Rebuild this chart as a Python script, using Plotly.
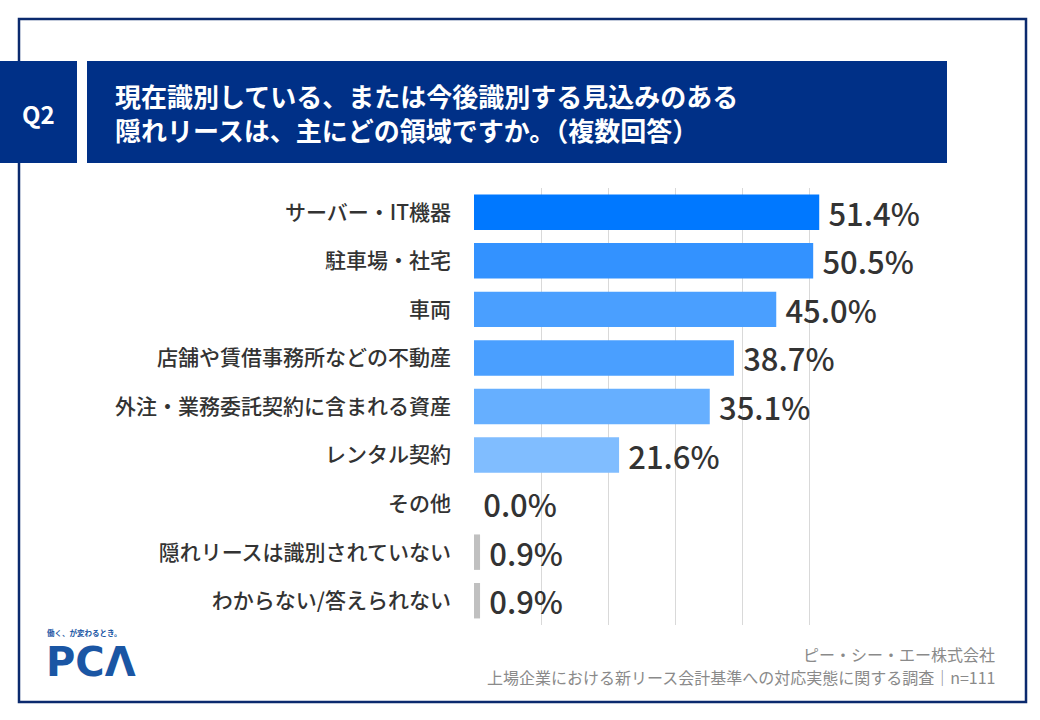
import plotly.graph_objects as go

categories = [
    "サーバー・IT機器",
    "駐車場・社宅",
    "車両",
    "店舗や賃借事務所などの不動産",
    "外注・業務委託契約に含まれる資産",
    "レンタル契約",
    "その他",
    "隠れリースは識別されていない",
    "わからない/答えられない",
]
values = [51.4, 50.5, 45.0, 38.7, 35.1, 21.6, 0.0, 0.9, 0.9]
bar_colors = ["#0078ff", "#3392ff", "#4a9fff", "#4a9fff", "#66afff",
              "#80bdff", "#80bdff", "#c0c0c0", "#c0c0c0"]

title_lines = ["現在識別している、または今後識別する見込みのある",
               "隠れリースは、主にどの領域ですか。（複数回答）"]
footer_lines = ["ピー・シー・エー株式会社",
                "上場企業における新リース会計基準への対応実態に関する調査｜n=111"]

W, H = 1040, 720
L, R, T, B = 474, 163, 188, 95
FONT = "Noto Sans CJK JP"
NAVY = "#003087"


def px(x):
    return (x - L) / (W - L - R)


def py(y):
    return 1 - (y - T) / (H - T - B)


fig = go.Figure()
fig.add_trace(go.Bar(
    y=categories, x=values, orientation="h",
    marker=dict(color=bar_colors, line=dict(width=0)),
    # thin space in front to push the label off the bar end a little
    text=[f"\u2009{v:.1f}%" for v in values], textposition="outside",
    constraintext="none",
    textfont=dict(family=FONT, size=31, color="#333333", weight=500),
    cliponaxis=False, hoverinfo="skip",
))

shapes = [
    # outer frame
    dict(type="rect", xref="paper", yref="paper", x0=px(19), x1=px(1026),
         y0=py(19), y1=py(702), line=dict(color="#0b2a6e", width=2.5), layer="below"),
    # Q2 box
    dict(type="rect", xref="paper", yref="paper", x0=px(0), x1=px(77),
         y0=py(61), y1=py(163), fillcolor=NAVY, line=dict(width=0)),
    # title box
    dict(type="rect", xref="paper", yref="paper", x0=px(87), x1=px(947),
         y0=py(61), y1=py(163), fillcolor=NAVY, line=dict(width=0)),
]


def note(text, x, y, size, color, xanchor="left", family=FONT):
    return dict(text=text, x=px(x), y=py(y), xref="paper", yref="paper",
                xanchor=xanchor, yanchor="middle", align=xanchor if xanchor != "center" else "center",
                showarrow=False, font=dict(family=family, size=size, color=color))


annotations = [
    note("<b>Q2</b>", 39, 113, 24, "white", xanchor="center"),
    note("<b>" + "<br>".join(title_lines) + "</b>", 113, 112, 26, "white"),
    note(footer_lines[0], 997, 654, 16, "#8a8a8a", xanchor="right"),
    note(footer_lines[1], 997, 677, 16, "#8a8a8a", xanchor="right"),
    note("<b>働く、が変わるとき。</b>", 45, 632, 7.5, "#1a56a4"),
    note("<b>PCΛ</b>", 44, 662, 40, "#1a56a4", family="DejaVu Sans"),
]

fig.update_layout(
    width=W, height=H,
    margin=dict(l=L, r=R, t=T, b=B),
    paper_bgcolor="white", plot_bgcolor="white",
    showlegend=False, bargap=0.27,
    shapes=shapes, annotations=annotations,
    xaxis=dict(range=[0, 60], dtick=10, showgrid=True, gridcolor="#d9d9d9",
               gridwidth=1, zeroline=False, showticklabels=False, fixedrange=True),
    yaxis=dict(autorange="reversed", showgrid=False, zeroline=False,
               ticklabelstandoff=22, ticks="", fixedrange=True,
               tickfont=dict(family=FONT, size=21, color="#333333", weight=500)),
)

fig.write_html("out.html", config={"displayModeBar": False},
               post_script="document.body.style.margin='0px';")
